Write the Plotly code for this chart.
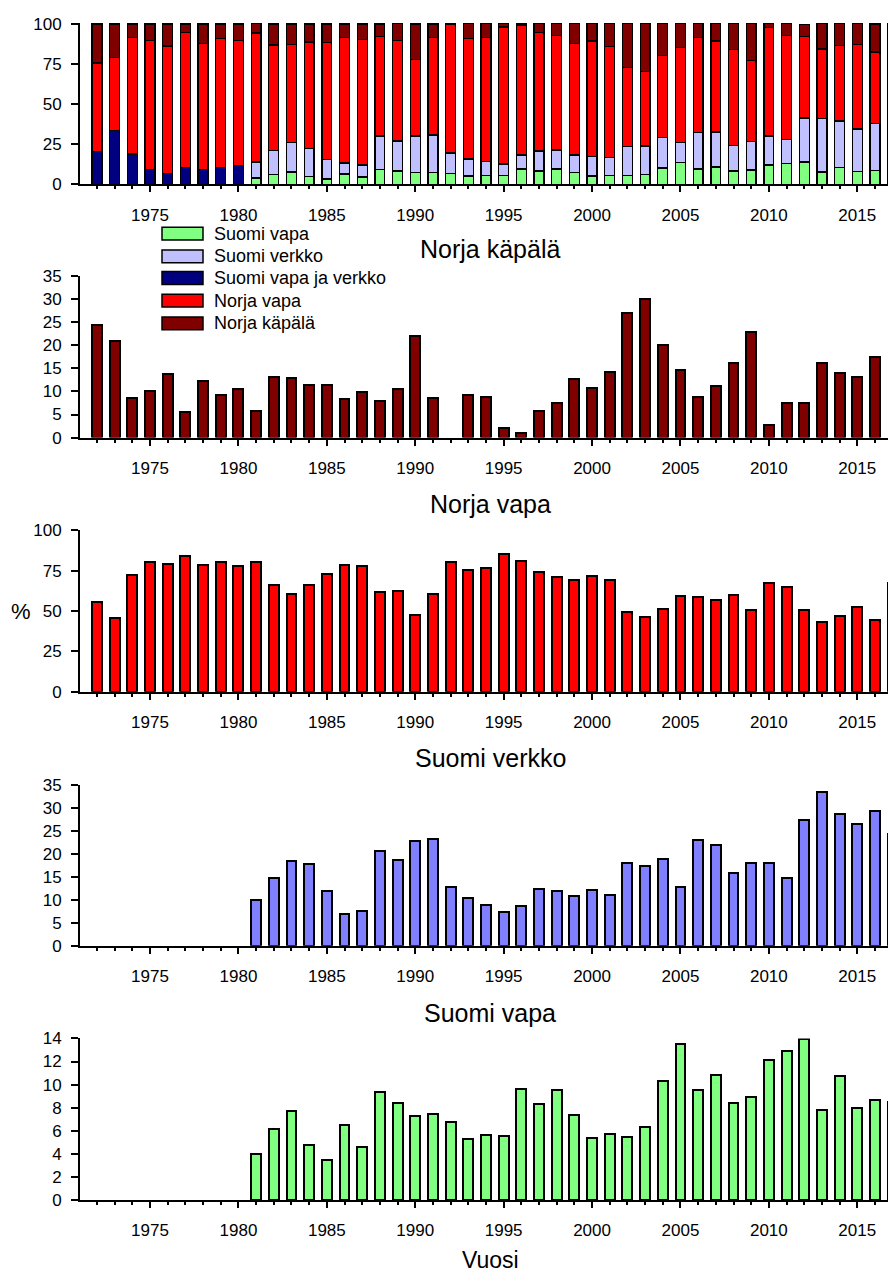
import plotly.graph_objects as go

# ---------------- data ----------------
years = list(range(1972, 2018))

suomi_vapa = [None] * 9 + [
    3.95, 6.14, 7.70, 4.77, 3.49, 6.51, 4.55, 9.40, 8.38, 7.27, 7.41,
    6.76, 5.26, 5.63, 5.51, 9.66, 8.32, 9.57, 7.39, 5.34, 5.74,
    5.43, 6.36, 10.28, 13.52, 9.57, 10.85, 8.41, 8.92, 12.10, 12.90,
    13.95, 7.78, 10.77, 7.98, 8.64, 8.52]

suomi_verkko = [None] * 9 + [
    10.1, 14.8, 18.5, 17.8, 12.0, 6.9, 7.6, 20.7, 18.7, 22.9, 23.4,
    12.8, 10.5, 8.8, 7.3, 8.6, 12.5, 11.9, 10.9, 12.2, 11.0,
    18.0, 17.5, 18.9, 12.8, 23.0, 21.9, 15.9, 18.0, 18.0, 14.9,
    27.5, 33.5, 28.7, 26.6, 29.4, 24.3]

suomi_vapa_ja_verkko = [20.4, 33.4, 19.0, 9.2, 7.0, 10.4, 9.2, 10.6, 11.9] + [None] * 37

norja_vapa = [
    55.3, 45.7, 72.4, 80.6, 79.2, 84.1, 78.6, 80.2, 77.6, 80.2,
    65.9, 60.8, 66.1, 73.1, 78.2, 78.0, 62.0, 62.4, 47.8, 60.6,
    80.4, 75.1, 76.9, 85.3, 81.0, 73.9, 71.2, 69.4, 71.8, 69.0,
    49.6, 46.3, 51.0, 59.0, 58.8, 56.5, 59.6, 50.4, 67.6, 65.1,
    50.6, 43.1, 46.9, 52.7, 44.5, 67.3]

norja_kapala = [
    24.3, 20.9, 8.6, 10.2, 13.8, 5.5, 12.2, 9.2, 10.5, 5.8,
    13.1, 12.9, 11.3, 11.3, 8.3, 9.8, 7.9, 10.6, 22.0, 8.5,
    None, 9.3, 8.7, 2.0, 1.1, 5.7, 7.5, 12.6, 10.8, 14.3,
    27.0, 30.1, 20.1, 14.7, 8.7, 11.1, 16.2, 22.9, 2.7, 7.4,
    7.5, 16.1, 13.9, 13.1, 17.4, None]

legend_labels = ["Suomi vapa", "Suomi verkko", "Suomi vapa ja verkko", "Norja vapa", "Norja käpälä"]
panel_titles = ["Norja käpälä", "Norja vapa", "Suomi verkko", "Suomi vapa"]
x_title = "Vuosi"
y_title = "%"

# ---------------- styling ----------------
# page body has an 8px default margin; size the figure so the page fits the window exactly
OFF = 8
W, H = 896 - OFF, 1283 - 2 * OFF
FONT = "Arial, Liberation Sans, Helvetica, sans-serif"
C_GREEN = "#80FF80"
C_LAV = "#C0C0FF"
C_PERI = "#8080FF"
C_NAVY = "#000080"
C_RED = "#FF0000"
C_DRED = "#800000"


def xp(px):
    return (px - OFF) / W


def yp(py):
    return 1 - (py - OFF) / H


panel_px = [(14, 178), (271, 435), (529, 693), (788, 951), (1045, 1209)]
y_ranges = [[0, 100.6], [0, 35], [0, 100], [0, 35], [0, 14]]
y_dticks = [25, 5, 25, 5, 2]

fig = go.Figure()
BW = 0.56

# Panel 1: stacked composition
stack_series = [
    (suomi_vapa, C_GREEN, legend_labels[0]),
    (suomi_verkko, C_LAV, legend_labels[1]),
    (suomi_vapa_ja_verkko, C_NAVY, legend_labels[2]),
    (norja_vapa, C_RED, legend_labels[3]),
    (norja_kapala, C_DRED, legend_labels[4]),
]
for vals, col, name in stack_series:
    fig.add_trace(go.Bar(x=years, y=vals, name=name, width=BW,
                         marker=dict(color=col, line=dict(color="black", width=1.3)),
                         xaxis="x", yaxis="y", showlegend=False))

single = [
    (norja_kapala, C_DRED, "x2", "y2"),
    (norja_vapa, C_RED, "x3", "y3"),
    (suomi_verkko, C_PERI, "x4", "y4"),
    (suomi_vapa, C_GREEN, "x5", "y5"),
]
for (vals, col, xa, ya), t in zip(single, panel_titles):
    fig.add_trace(go.Bar(x=years, y=vals, name=t, width=BW,
                         marker=dict(color=col, line=dict(color="black", width=2)),
                         xaxis=xa, yaxis=ya, showlegend=False))

layout = dict(
    width=W, height=H,
    margin=dict(l=0, r=0, t=0, b=0),
    paper_bgcolor="white", plot_bgcolor="white",
    barmode="stack", showlegend=False,
    font=dict(family=FONT, color="black"),
)
for i in range(5):
    sfx = "" if i == 0 else str(i + 1)
    top, bot = panel_px[i]
    layout["xaxis" + sfx] = dict(
        domain=[xp(80), 1.0], range=[1971.04, 2017.19], anchor="y" + sfx,
        showline=True, linecolor="black", linewidth=2,
        tickmode="linear", tick0=1975, dtick=5,
        ticks="outside", ticklen=6, tickwidth=2, tickcolor="black",
        minor=dict(ticks="outside", ticklen=3, tickwidth=2, tickcolor="black",
                   tickmode="linear", tick0=1975, dtick=1, showgrid=False),
        showgrid=False, zeroline=False, ticklabelstandoff=8,
        tickfont=dict(family=FONT, size=17, color="black"),
    )
    layout["yaxis" + sfx] = dict(
        domain=[yp(bot), yp(top)], range=y_ranges[i], anchor="x" + sfx,
        showline=True, linecolor="black", linewidth=2,
        tickmode="linear", tick0=0, dtick=y_dticks[i],
        ticks="outside", ticklen=7, tickwidth=2, tickcolor="black",
        showgrid=False, zeroline=False, ticklabelstandoff=6,
        tickfont=dict(family=FONT, size=17, color="black"),
    )
fig.update_layout(**layout)

# panel titles
title_y = [244, 502, 760, 1019]
for t, ypx in zip(panel_titles, title_y):
    fig.add_annotation(text=t, xref="paper", yref="paper", x=xp(490), y=yp(ypx),
                       xanchor="center", yanchor="middle", showarrow=False,
                       font=dict(family=FONT, size=25, color="black"))

fig.add_annotation(text=x_title, xref="paper", yref="paper", x=xp(490), y=yp(1270),
                   xanchor="center", yanchor="middle", showarrow=False,
                   font=dict(family=FONT, size=23, color="black"))
fig.add_annotation(text=y_title, xref="paper", yref="paper", x=xp(21), y=yp(612),
                   xanchor="center", yanchor="middle", showarrow=False,
                   font=dict(family=FONT, size=22, color="black"))

# legend (manual, matching the wide swatches)
leg_cols = [C_GREEN, C_LAV, C_NAVY, C_RED, C_DRED]
leg_y = [228, 251, 273, 296, 319]
for lab, col, yc in zip(legend_labels, leg_cols, leg_y):
    fig.add_shape(type="rect", xref="paper", yref="paper",
                  x0=xp(162), x1=xp(203), y0=yp(yc + 6.5), y1=yp(yc - 6.5),
                  fillcolor=col, line=dict(color="black", width=1.5))
    fig.add_annotation(text=lab, xref="paper", yref="paper", x=xp(212), y=yp(yc),
                       xanchor="left", yanchor="middle", showarrow=False,
                       font=dict(family=FONT, size=18, color="black"))

fig.write_html("out.html")
